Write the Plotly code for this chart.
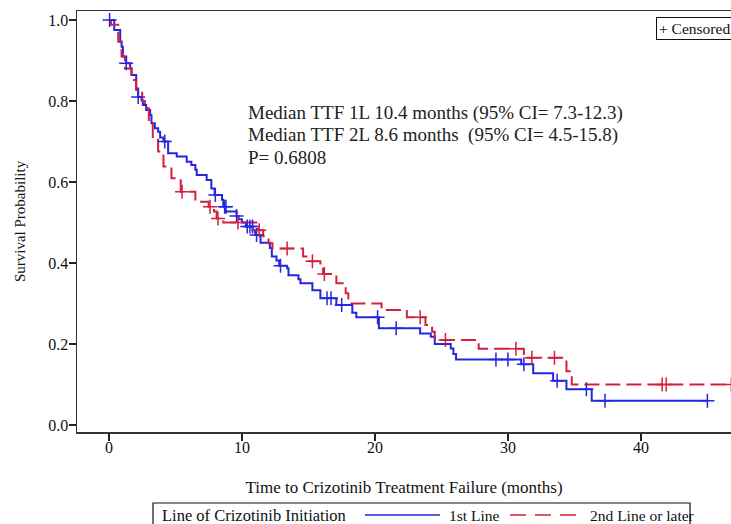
import plotly.graph_objects as go

# ---- data ----
# 1st Line: event times (months) and survival after each step
l1_times = [0.4, 0.85, 0.95, 1.05, 1.3, 1.6, 1.7, 2.05, 2.2, 2.45, 2.55, 2.8, 3.1, 3.2, 3.45, 3.7, 3.85,
            4.1, 4.45, 5.1, 5.85, 6.2, 6.5, 6.6, 7.35, 7.7, 7.95, 8.5, 8.6, 8.75, 9.6, 9.75, 10.0, 10.3,
            10.8, 11.0, 11.4, 12.1, 12.25, 12.6, 12.8, 13.4, 13.5, 14.25, 14.4, 15.3, 15.9, 17.1, 18.3,
            18.6, 20.3, 23.4, 24.2, 24.5, 25.7, 25.9, 26.1, 31.0, 31.9, 33.4, 34.4, 36.3]
l1_surv = [0.975, 0.946, 0.934, 0.91, 0.893, 0.88, 0.864, 0.831, 0.81, 0.802, 0.79, 0.778, 0.765, 0.745,
           0.733, 0.724, 0.71, 0.70, 0.671, 0.663, 0.65, 0.642, 0.63, 0.617, 0.605, 0.584, 0.568, 0.556,
           0.539, 0.527, 0.516, 0.508, 0.50, 0.49, 0.481, 0.469, 0.45, 0.437, 0.416, 0.406, 0.393, 0.387,
           0.37, 0.36, 0.35, 0.333, 0.313, 0.296, 0.277, 0.266, 0.239, 0.226, 0.218, 0.20, 0.189, 0.175,
           0.162, 0.15, 0.128, 0.109, 0.088, 0.06]
l1_last = 45.0
l1_cens_t = [0.05, 1.3, 2.2, 4.2, 8.0, 8.7, 8.8, 9.6, 10.4, 10.6, 10.8, 11.1, 12.9, 16.4, 16.7, 17.5,
             20.2, 21.6, 29.1, 30.0, 31.2, 33.7, 35.9, 37.3, 45.0]
l1_cens_s = [1.0, 0.893, 0.81, 0.70, 0.568, 0.539, 0.539, 0.516, 0.49, 0.49, 0.49, 0.469, 0.393, 0.313,
             0.313, 0.296, 0.266, 0.239, 0.162, 0.162, 0.15, 0.109, 0.088, 0.06, 0.06]

# 2nd Line or later
l2_times = [0.15, 0.7, 0.95, 1.2, 1.7, 2.05, 2.5, 2.7, 3.0, 3.3, 3.7, 4.1, 4.7, 5.4, 6.5, 7.5, 7.9, 8.1,
            8.6, 11.2, 11.6, 12.0, 12.3, 14.6, 15.1, 15.9, 16.1, 17.1, 17.8, 18.0, 20.5, 22.4, 23.8,
            24.3, 24.5, 27.8, 31.2, 34.4, 34.8]
l2_surv = [0.988, 0.946, 0.91, 0.88, 0.852, 0.827, 0.80, 0.782, 0.745, 0.704, 0.675, 0.638, 0.609, 0.576,
           0.551, 0.539, 0.527, 0.51, 0.50, 0.481, 0.466, 0.449, 0.436, 0.416, 0.404, 0.39, 0.373, 0.35,
           0.325, 0.30, 0.284, 0.266, 0.247, 0.23, 0.21, 0.188, 0.166, 0.133, 0.10]
l2_last = 48.0
l2_cens_t = [5.5, 7.6, 8.2, 9.7, 11.3, 13.4, 15.3, 16.2, 23.4, 25.3, 30.6, 31.8, 33.5, 41.6, 41.9, 46.8]
l2_cens_s = [0.576, 0.539, 0.51, 0.50, 0.481, 0.436, 0.404, 0.373, 0.266, 0.21, 0.188, 0.166, 0.166,
             0.10, 0.10, 0.10]

x_ticks = [0, 10, 20, 30, 40]
y_ticks = [0.0, 0.2, 0.4, 0.6, 0.8, 1.0]
y_tick_labels = ["0.0", "0.2", "0.4", "0.6", "0.8", "1.0"]

group_names = ["1st Line", "2nd Line or later"]
legend_title = "Line of Crizotinib Initiation"
stats_lines = ["Median TTF 1L 10.4 months (95% CI= 7.3-12.3)",
               "Median TTF 2L 8.6 months&nbsp; (95% CI= 4.5-15.8)",
               "P= 0.6808"]

BLUE = "#2626e0"
RED = "#d4203c"
RED_DASH = "15px,6px"
FONT = "Liberation Serif"
TXT = "#111111"

fig = go.Figure()


def step_xy(times, surv, last):
    xs = [0.0] + list(times) + [last]
    ys = [1.0] + list(surv) + [surv[-1]]
    return xs, ys


x1, y1 = step_xy(l1_times, l1_surv, l1_last)
x2, y2 = step_xy(l2_times, l2_surv, l2_last)

fig.add_trace(go.Scatter(x=x1, y=y1, mode="lines", line=dict(color=BLUE, width=2, shape="hv"),
                         name=group_names[0], hoverinfo="skip", showlegend=False))
fig.add_trace(go.Scatter(x=x2, y=y2, mode="lines",
                         line=dict(color=RED, width=2, shape="hv", dash=RED_DASH),
                         name=group_names[1], hoverinfo="skip", showlegend=False))
fig.add_trace(go.Scatter(x=l1_cens_t, y=l1_cens_s, mode="markers", showlegend=False, hoverinfo="skip",
                         marker=dict(symbol="cross-thin", size=10, line=dict(color=BLUE, width=1.5))))
fig.add_trace(go.Scatter(x=l2_cens_t, y=l2_cens_s, mode="markers", showlegend=False, hoverinfo="skip",
                         marker=dict(symbol="cross-thin", size=10, line=dict(color=RED, width=1.5))))

W, H = 731, 524
L, T, R = 77, 11, 0
PLOT_BOTTOM = 432
B = H - PLOT_BOTTOM
pw, ph = W - L - R, H - T - B
PX_PER_MONTH = 13.3
x_right = -2.4 + pw / PX_PER_MONTH

fig.update_layout(
    width=W, height=H,
    margin=dict(l=L, r=R, t=T, b=B, pad=0, autoexpand=False),
    paper_bgcolor="white", plot_bgcolor="white",
    font=dict(family=FONT, size=16, color=TXT),
    showlegend=False,
    hovermode=False,
    xaxis=dict(range=[-2.4, x_right], tickvals=x_ticks, ticks="outside", ticklen=7, tickwidth=1.3,
               tickcolor="#222", showline=True, linecolor="#333", linewidth=1.5, mirror=True,
               showgrid=False, zeroline=False, automargin=False, ticklabelstandoff=-7,
               tickfont=dict(family=FONT, size=16, color=TXT),
               title=dict(text="Time to Crizotinib Treatment Failure (months)",
                          font=dict(family=FONT, size=17, color=TXT), standoff=26)),
    yaxis=dict(range=[-0.0173, 1.0222], tickvals=y_ticks, ticktext=y_tick_labels, ticks="outside",
               ticklen=7, tickwidth=1.3, tickcolor="#222", showline=True, linecolor="#333",
               linewidth=1.5, showgrid=False, zeroline=False, automargin=False, ticklabelstandoff=-3,
               tickfont=dict(family=FONT, size=16, color=TXT),
               title=dict(text="Survival Probability", font=dict(family=FONT, size=15, color=TXT),
                          standoff=19)),
)


def px_x(px):
    return (px - L) / pw


def px_y(py):
    return (T + ph - py) / ph


ann_font = dict(family=FONT, size=19, color="#222")
for i, line in enumerate(stats_lines):
    fig.add_annotation(x=px_x(246), y=px_y(113 + 22 * i), xref="paper", yref="paper",
                       xanchor="left", yanchor="middle", text=line, showarrow=False, font=ann_font)

# "+ Censored" key box (its right side runs past the page edge, as in the reference)
fig.add_annotation(x=px_x(656), y=px_y(17), xref="paper", yref="paper", xanchor="left", yanchor="top",
                   text="+ Censored&nbsp;&nbsp;", showarrow=False, bordercolor="#111", borderwidth=1,
                   borderpad=2, bgcolor="white", font=dict(family=FONT, size=15.5, color=TXT))

# bottom legend box
fig.add_shape(type="rect", xref="paper", yref="paper", x0=px_x(153), x1=px_x(690),
              y0=px_y(528), y1=px_y(503), line=dict(color="#111", width=1.2), fillcolor="white")
fig.add_annotation(x=px_x(160), y=px_y(515), xref="paper", yref="paper", xanchor="left",
                   yanchor="middle", text=legend_title, showarrow=False,
                   font=dict(family=FONT, size=16.5, color=TXT))
fig.add_shape(type="line", xref="paper", yref="paper", x0=px_x(365), x1=px_x(440),
              y0=px_y(515), y1=px_y(515), line=dict(color=BLUE, width=1.5))
fig.add_annotation(x=px_x(447), y=px_y(515), xref="paper", yref="paper", xanchor="left",
                   yanchor="middle", text=group_names[0], showarrow=False,
                   font=dict(family=FONT, size=15.5, color=TXT))
fig.add_shape(type="line", xref="paper", yref="paper", x0=px_x(510), x1=px_x(580),
              y0=px_y(515), y1=px_y(515), line=dict(color=RED, width=1.5, dash="16px,9px"))
fig.add_annotation(x=px_x(588), y=px_y(515), xref="paper", yref="paper", xanchor="left",
                   yanchor="middle", text=group_names[1], showarrow=False,
                   font=dict(family=FONT, size=15.5, color=TXT))

fig.write_html("out.html", config={"displayModeBar": False, "staticPlot": True},
               post_script="document.body.style.margin='0';document.body.style.overflow='hidden';")
